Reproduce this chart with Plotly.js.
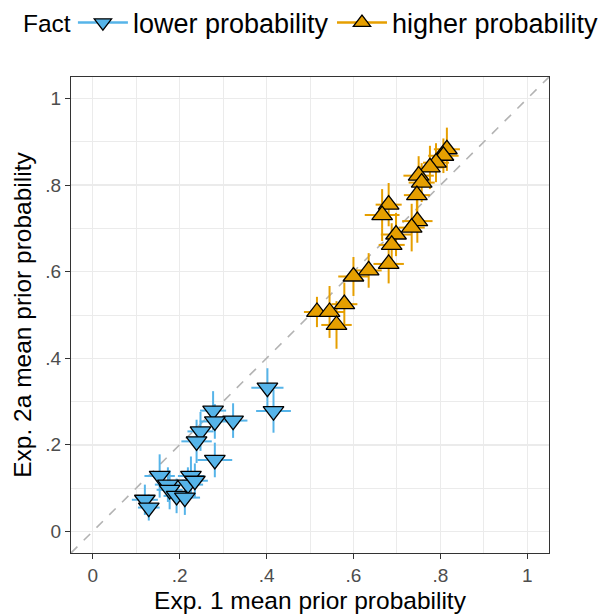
<!DOCTYPE html>
<html>
<head>
<meta charset="utf-8">
<script src="https://cdn.plot.ly/plotly-3.0.1.min.js"></script>
<style>html,body{margin:0;padding:0;background:#fff;}#chart{width:602px;height:615px;}</style>
</head>
<body>
<div id="chart"></div>
<script>
// Lower-probability facts
const lowerX  = [0.402, 0.416, 0.323, 0.277, 0.281, 0.248, 0.239, 0.281, 0.154, 0.226, 0.173, 0.219, 0.177, 0.193, 0.212, 0.235, 0.120, 0.129];
const lowerY  = [0.332, 0.278, 0.256, 0.279, 0.254, 0.231, 0.208, 0.165, 0.128, 0.128, 0.108, 0.108, 0.096, 0.082, 0.078, 0.117, 0.073, 0.055];
const lowerEX = [0.037, 0.040, 0.033, 0.030, 0.035, 0.030, 0.035, 0.040, 0.035, 0.030, 0.030, 0.035, 0.030, 0.030, 0.035, 0.030, 0.030, 0.025];
const lowerEY = [0.045, 0.050, 0.040, 0.045, 0.040, 0.045, 0.050, 0.040, 0.050, 0.045, 0.040, 0.040, 0.045, 0.040, 0.040, 0.040, 0.035, 0.030];
// Higher-probability facts
const higherX  = [0.815, 0.807, 0.790, 0.776, 0.750, 0.757, 0.746, 0.681, 0.666, 0.747, 0.734, 0.698, 0.688, 0.681, 0.635, 0.600, 0.516, 0.545, 0.579, 0.561];
const higherY  = [0.883, 0.868, 0.852, 0.841, 0.822, 0.806, 0.777, 0.755, 0.731, 0.717, 0.702, 0.686, 0.662, 0.618, 0.603, 0.589, 0.507, 0.507, 0.525, 0.477];
const higherEX = [0.030, 0.035, 0.030, 0.030, 0.035, 0.030, 0.030, 0.030, 0.040, 0.035, 0.030, 0.035, 0.030, 0.035, 0.030, 0.035, 0.030, 0.035, 0.030, 0.035];
const higherEY = [0.050, 0.040, 0.045, 0.050, 0.045, 0.045, 0.050, 0.050, 0.060, 0.050, 0.055, 0.050, 0.050, 0.045, 0.040, 0.045, 0.035, 0.060, 0.050, 0.055];

const legendTitle = 'Fact';
const groupNames = ['lower probability', 'higher probability'];
const tickVals = [0, 0.2, 0.4, 0.6, 0.8, 1];
const tickText = ['0', '.2', '.4', '.6', '.8', '1'];
const axisRange = [-0.05, 1.05];

const BLUE = '#56B4E9', ORANGE = '#E69F00';
const FONT = 'Liberation Sans, Arial, sans-serif';
const LEG_FONT = {family: FONT, size: 27, color: '#000'};

function groupTrace(x, y, ex, ey, color, symbol) {
  return {
    x: x, y: y, type: 'scatter', mode: 'markers', showlegend: false, hoverinfo: 'skip',
    error_x: {type: 'data', array: ex, visible: true, color: color, thickness: 2, width: 0},
    error_y: {type: 'data', array: ey, visible: true, color: color, thickness: 2, width: 0},
    marker: {symbol: symbol, size: 18, color: color, line: {color: '#000', width: 1.3}}
  };
}
function legendTrace(name, color, symbol, legendId) {
  return {
    x: [null], y: [null], type: 'scatter', mode: 'lines+markers', name: name, legend: legendId,
    line: {color: color, width: 2.5},
    marker: {symbol: symbol, size: 15, color: color, line: {color: '#000', width: 1.3}}
  };
}

const data = [
  {x: axisRange, y: axisRange, type: 'scatter', mode: 'lines', showlegend: false, hoverinfo: 'skip',
   line: {color: '#B3B3B3', width: 1.6, dash: 'dash'}},
  groupTrace(lowerX, lowerY, lowerEX, lowerEY, BLUE, 'triangle-down'),
  groupTrace(higherX, higherY, higherEX, higherEY, ORANGE, 'triangle-up'),
  legendTrace(groupNames[0], BLUE, 'triangle-down', 'legend'),
  legendTrace(groupNames[1], ORANGE, 'triangle-up', 'legend2')
];

function axis(title) {
  return {
    range: axisRange, tickvals: tickVals, ticktext: tickText,
    showgrid: true, gridcolor: '#EBEBEB', gridwidth: 1.5,
    minor: {dtick: 0.1, tick0: 0, showgrid: true, gridcolor: '#EBEBEB', gridwidth: 1, ticks: ''},
    zeroline: false, showline: true, mirror: true, linecolor: '#333333', linewidth: 1.2,
    ticks: 'outside', ticklen: 5, tickcolor: '#333333', tickwidth: 1.2,
    tickfont: {family: FONT, size: 19, color: '#4D4D4D'},
    title: {text: title, font: {family: FONT, size: 24.5, color: '#000'}, standoff: 6}
  };
}

function legendBox(x) {
  return {orientation: 'h', x: x, xanchor: 'left', y: 1.1134, yanchor: 'middle',
          font: LEG_FONT, itemwidth: 50, bgcolor: 'rgba(0,0,0,0)'};
}

const layout = {
  width: 602, height: 615,
  margin: {l: 71, r: 53, t: 77, b: 62, autoexpand: false},
  paper_bgcolor: '#fff', plot_bgcolor: '#fff',
  font: {family: FONT, color: '#000'},
  xaxis: axis('Exp. 1 mean prior probability'),
  yaxis: axis('Exp. 2a mean prior probability'),
  showlegend: true,
  legend: legendBox(0.004),
  legend2: legendBox(0.546),
  annotations: [{
    text: legendTitle, xref: 'paper', yref: 'paper', x: -0.1046, xanchor: 'left',
    y: 1.1134, yanchor: 'middle', showarrow: false,
    font: {family: FONT, size: 24.5, color: '#000'}
  }]
};

Plotly.newPlot('chart', data, layout, {displayModeBar: false, staticPlot: true});
</script>
</body>
</html>
